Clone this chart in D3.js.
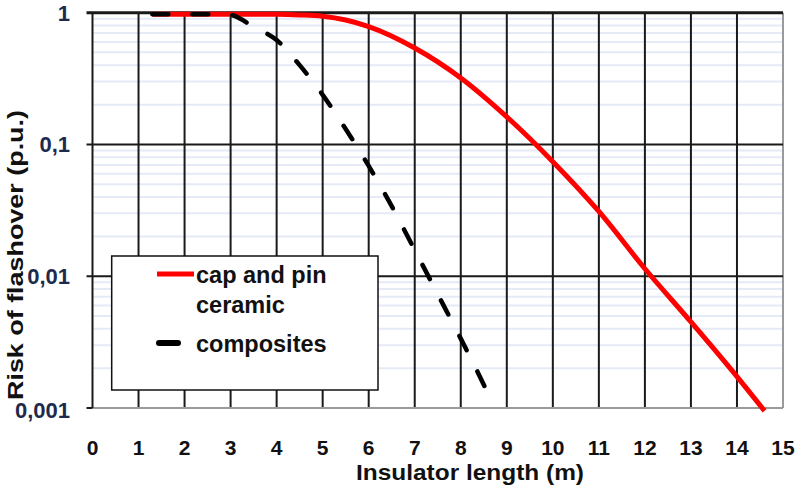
<!DOCTYPE html>
<html>
<head>
<meta charset="utf-8">
<script src="https://cdn.jsdelivr.net/npm/d3@7"></script>
<style>
  body { margin: 0; background: #fff; }
  svg { display: block; }
  text { font-family: "Liberation Sans", Arial, sans-serif; font-weight: bold; }
</style>
</head>
<body>
<svg id="chart" width="800" height="487"></svg>
<script>
// x ticks (m) and y decades
const xTicks = [0, 1, 2, 3, 4, 5, 6, 7, 8, 9, 10, 11, 12, 13, 14, 15];
const yTicks = [1, 0.1, 0.01, 0.001];
const yTickLabels = ["1", "0,1", "0,01", "0,001"];

// cap and pin ceramic
const ceramicX = [1.3, 2, 3, 4, 4.5, 5, 5.5, 6, 7, 8, 9, 10, 11, 12, 13, 14, 14.6];
const ceramicY = [0.975, 0.975, 0.975, 0.972, 0.962, 0.94, 0.88, 0.785, 0.54, 0.32, 0.162, 0.074, 0.031, 0.0114, 0.0045, 0.00173, 0.00095];

// composites
const compX = [1.3, 2, 2.5, 3, 3.5, 4, 4.5, 5, 5.5, 6, 6.5, 7, 7.5, 8, 8.5, 8.6];
const compY = [0.975, 0.975, 0.975, 0.96, 0.78, 0.62, 0.40, 0.238, 0.131, 0.0687, 0.034, 0.0158, 0.0073, 0.00336, 0.0015, 0.00126];

const seriesNames = ["cap and pin", "ceramic", "composites"];

const svg = d3.select("#chart");
const pLeft = 92.5, pRight = 783, pTop = 12.7, pBottom = 408;

const x = d3.scaleLinear().domain([0, 15]).range([pLeft, pRight]);
const y = d3.scaleLog().domain([0.001, 1]).range([pBottom, pTop]);

// minor grid (light blue)
const minors = [];
[0.001, 0.01, 0.1].forEach(d => { for (let k = 2; k <= 9; k++) minors.push(k * d); });
svg.append("g").attr("class", "minor-grid")
  .selectAll("line").data(minors).enter().append("line")
  .attr("x1", pLeft).attr("x2", pRight)
  .attr("y1", d => y(d)).attr("y2", d => y(d))
  .style("stroke", "#e5eaf6").style("stroke-width", 2);

// vertical grid
svg.append("g").attr("class", "x-grid")
  .selectAll("line").data(xTicks.slice(1, -1)).enter().append("line")
  .attr("x1", d => x(d)).attr("x2", d => x(d))
  .attr("y1", pTop).attr("y2", pBottom)
  .style("stroke", "#1a1a1a").style("stroke-width", 2);

// bottom and right border (grey)
svg.append("line").attr("x1", pLeft).attr("x2", pRight).attr("y1", y(0.001)).attr("y2", y(0.001))
  .style("stroke", "#9a9a9a").style("stroke-width", 2);
svg.append("line").attr("x1", pRight).attr("x2", pRight).attr("y1", pTop).attr("y2", pBottom)
  .style("stroke", "#9a9a9a").style("stroke-width", 2);

// major horizontal grid + ticks
svg.append("g").attr("class", "y-grid")
  .selectAll("line").data(yTicks.slice(0, 3)).enter().append("line")
  .attr("x1", pLeft - 6).attr("x2", pRight)
  .attr("y1", d => y(d)).attr("y2", d => y(d))
  .style("stroke", "#1a1a1a").style("stroke-width", d => d === 1 ? 3 : 2);
svg.append("line").attr("x1", pLeft - 6).attr("x2", pLeft).attr("y1", y(0.001)).attr("y2", y(0.001))
  .style("stroke", "#1a1a1a").style("stroke-width", 2);

// y axis line
svg.append("line").attr("x1", pLeft).attr("x2", pLeft).attr("y1", pTop).attr("y2", pBottom)
  .style("stroke", "#1a1a1a").style("stroke-width", 2);

// tick labels
svg.append("g").selectAll("text").data(yTicks).enter().append("text")
  .attr("x", 70).attr("y", (d, i) => y(d) + 8 + (i === 3 ? 2 : 0))
  .attr("text-anchor", "end")
  .style("font-size", "22px").style("fill", "#1e2a4c")
  .text((d, i) => yTickLabels[i]);

svg.append("g").selectAll("text").data(xTicks).enter().append("text")
  .attr("x", d => x(d)).attr("y", 455)
  .attr("text-anchor", "middle")
  .style("font-size", "21px").style("fill", "#111")
  .text(d => d);

// axis titles
svg.append("text").attr("x", 470).attr("y", 480)
  .attr("text-anchor", "middle")
  .attr("textLength", 228).attr("lengthAdjust", "spacingAndGlyphs")
  .style("font-size", "22px").style("fill", "#111")
  .text("Insulator length (m)");

svg.append("text")
  .attr("transform", "translate(23,255) rotate(-90)")
  .attr("text-anchor", "middle")
  .attr("textLength", 290).attr("lengthAdjust", "spacingAndGlyphs")
  .style("font-size", "22px").style("fill", "#111")
  .text("Risk of flashover (p.u.)");

// curves
const line = d3.line().curve(d3.curveMonotoneX)
  .x(d => x(d[0])).y(d => y(d[1]));

svg.append("path").datum(ceramicX.map((v, i) => [v, ceramicY[i]]))
  .attr("d", line)
  .style("fill", "none").style("stroke", "#ff0000").style("stroke-width", 5);

svg.append("path").datum(compX.map((v, i) => [v, compY[i]]))
  .attr("d", line)
  .style("fill", "none").style("stroke", "#000").style("stroke-width", 4.5)
  .style("stroke-dasharray", "16,24").style("stroke-linecap", "round");

// legend
const lg = svg.append("g").attr("class", "legend");
lg.append("rect").attr("x", 111.7).attr("y", 256).attr("width", 266.3).attr("height", 134)
  .style("fill", "#fff").style("stroke", "#111").style("stroke-width", 1.5);
lg.append("line").attr("x1", 157).attr("x2", 194).attr("y1", 274).attr("y2", 274)
  .style("stroke", "#ff0000").style("stroke-width", 5);
lg.append("line").attr("x1", 159).attr("x2", 178).attr("y1", 343).attr("y2", 343)
  .style("stroke", "#000").style("stroke-width", 6).style("stroke-linecap", "round");
lg.append("text").attr("x", 196).attr("y", 283).style("font-size", "23.5px").style("fill", "#111").text(seriesNames[0]);
lg.append("text").attr("x", 196).attr("y", 313).style("font-size", "23.5px").style("fill", "#111").text(seriesNames[1]);
lg.append("text").attr("x", 196).attr("y", 352).style("font-size", "23.5px").style("fill", "#111").text(seriesNames[2]);
</script>
</body>
</html>
